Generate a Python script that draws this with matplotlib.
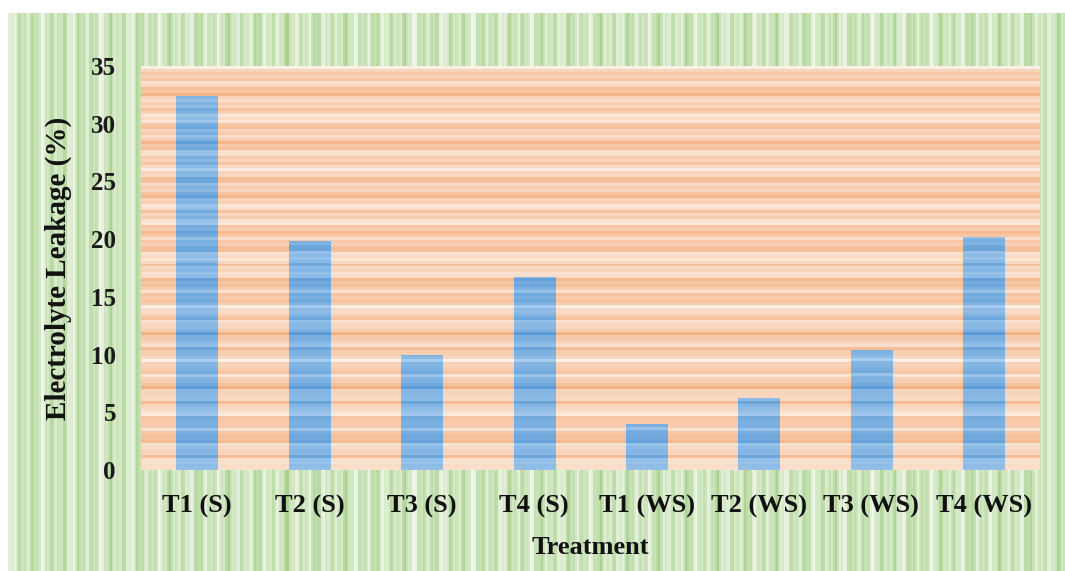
import numpy as np
import matplotlib
matplotlib.use("Agg")
import matplotlib.pyplot as plt
from matplotlib.colors import to_rgb

# Electrolyte leakage per treatment
treatments = ["T1 (S)", "T2 (S)", "T3 (S)", "T4 (S)",
              "T1 (WS)", "T2 (WS)", "T3 (WS)", "T4 (WS)"]
leakage = [32.4, 19.8, 10.0, 16.7, 4.0, 6.2, 10.4, 20.2]
y_ticks = [0, 5, 10, 15, 20, 25, 30, 35]

W, H = 1065, 571
fig = plt.figure(figsize=(W / 100, H / 100), dpi=100)
fig.patch.set_facecolor("white")

serif = ["Liberation Serif", "DejaVu Serif"]


def stripe_profile(n, f1, f2, f3):
    """Smooth pseudo-texture in [0, 1] built from a few sine waves."""
    t = np.arange(n)
    v = (0.5 + 0.22 * np.sin(2 * np.pi * t * f1)
         + 0.18 * np.sin(2 * np.pi * t * f2 + 1.3)
         + 0.12 * np.sin(2 * np.pi * t * f3 + 0.4))
    v = (v - v.min()) / (v.max() - v.min())
    return v


def blend(c_dark, c_light, v):
    a = np.array(to_rgb(c_dark))
    b = np.array(to_rgb(c_light))
    return a[None, :] * (1 - v[:, None]) + b[None, :] * v[:, None]


# Green vertical-striped chart area
bg = fig.add_axes([8 / W, 0, 1 - 8 / W, 1 - 13 / H], zorder=-10)
gv = stripe_profile(520, 0.137, 0.311, 0.071)
green = blend("#a9d18e", "#f3f9ee", gv)
bg.imshow(green[None, :, :], aspect="auto", interpolation="nearest",
          extent=[0, 1, 0, 1])
bg.set_axis_off()

# Plot area
left, right, top, bottom = 141, 1040, 66, 470
ax = fig.add_axes([left / W, (H - bottom) / H,
                   (right - left) / W, (bottom - top) / H])
ax.set_xlim(-0.5, len(treatments) - 0.5)
ax.set_ylim(0, 35)

# Horizontal stripe texture shared by the plot area and the bars
hv = stripe_profile(135, 0.173, 0.389, 0.061)
orange = blend("#f4b183", "#fdf2ea", hv)
blue = blend("#5b9bd5", "#a9cdef", hv)

ax.imshow(orange[::-1, None, :], aspect="auto", interpolation="nearest",
          extent=[-0.5, len(treatments) - 0.5, 0, 35], zorder=0)

bars = ax.bar(range(len(treatments)), leakage, width=0.37,
              color="#5b9bd5", zorder=1, linewidth=0)
for b in bars:
    im = ax.imshow(blue[::-1, None, :], aspect="auto",
                   interpolation="nearest",
                   extent=[-0.5, len(treatments) - 0.5, 0, 35], zorder=2)
    im.set_clip_path(b)

ax.set_xlim(-0.5, len(treatments) - 0.5)
ax.set_ylim(0, 35)

for s in ax.spines.values():
    s.set_visible(False)

ax.set_xticks(range(len(treatments)))
ax.set_xticklabels(treatments, fontfamily=serif, fontweight="bold",
                   fontsize=19, color="#111111")
ax.set_yticks(y_ticks)
ax.set_yticklabels([str(v) for v in y_ticks], fontfamily=serif,
                   fontweight="bold", fontsize=18, color="#1a1a1a")
ax.tick_params(axis="x", length=0, pad=18)
ax.tick_params(axis="y", length=0, pad=18)

ax.set_xlabel("Treatment", fontfamily=serif, fontweight="bold",
              fontsize=19, color="#111111", labelpad=13)
ax.set_ylabel("Electrolyte Leakage (%)", fontfamily=serif,
              fontweight="bold", fontsize=21, color="#111111", labelpad=14)

fig.savefig("out.png", dpi=100)
